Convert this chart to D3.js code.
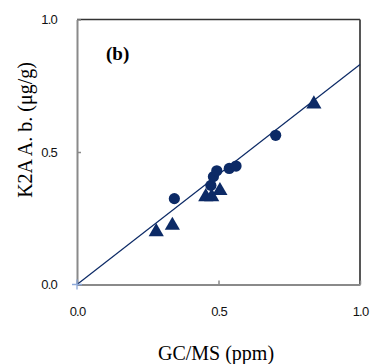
<!DOCTYPE html>
<html>
<head>
<meta charset="utf-8">
<script src="https://cdn.jsdelivr.net/npm/d3@7"></script>
<style>
  body { margin: 0; background: #fff; }
</style>
</head>
<body>
<div id="chart"></div>
<script>
// GC/MS vs K2A A. b. (panel b)
const circleX = [0.344, 0.473, 0.482, 0.494, 0.538, 0.562, 0.702];
const circleY = [0.324, 0.374, 0.407, 0.429, 0.438, 0.447, 0.563];
const triX = [0.280, 0.337, 0.455, 0.476, 0.505, 0.837];
const triY = [0.199, 0.223, 0.331, 0.331, 0.354, 0.681];
const fitSlope = 0.83;
const tickValues = [0, 0.5, 1.0];
const tickLabels = ["0.0", "0.5", "1.0"];

const width = 370, height = 364;
const margin = { top: 19.5, right: 10, bottom: 79.5, left: 77 };
const plotW = width - margin.left - margin.right;
const plotH = height - margin.top - margin.bottom;

const svg = d3.select("#chart")
  .append("svg")
  .attr("width", width)
  .attr("height", height);

const g = svg.append("g")
  .attr("transform", `translate(${margin.left},${margin.top})`);

const x = d3.scaleLinear().domain([0, 1]).range([0, plotW]);
const y = d3.scaleLinear().domain([0, 1]).range([plotH, 0]);

const navy = "#0c2a66";

// frame: top/right dark, left/bottom gray
g.append("line")
  .attr("x1", 0).attr("x2", plotW).attr("y1", 0).attr("y2", 0)
  .attr("stroke", "#333").attr("stroke-width", 1.5);
g.append("line")
  .attr("x1", plotW).attr("x2", plotW).attr("y1", 0).attr("y2", plotH)
  .attr("stroke", "#444").attr("stroke-width", 1.8);

const xAxis = g.append("g")
  .attr("transform", `translate(0,${plotH})`)
  .call(d3.axisBottom(x).tickValues(tickValues).tickSizeInner(-4).tickSizeOuter(0)
    .tickFormat((d, i) => tickLabels[i]));
const yAxis = g.append("g")
  .call(d3.axisLeft(y).tickValues(tickValues).tickSizeInner(-4).tickSizeOuter(0)
    .tickFormat((d, i) => tickLabels[i]));

[xAxis, yAxis].forEach(ax => {
  ax.select(".domain").attr("stroke", "#8a8a8a").attr("stroke-width", 2);
  ax.selectAll(".tick line").attr("stroke", "#8a8a8a").attr("stroke-width", 1.5);
  ax.selectAll(".tick text")
    .attr("font-family", "'Liberation Sans', Arial, sans-serif")
    .attr("font-size", "13px")
    .attr("letter-spacing", "-0.8px")
    .attr("fill", "#111");
});
xAxis.selectAll(".tick text").attr("y", 22);
yAxis.selectAll(".tick text").attr("x", -20);

// fit line
g.append("line")
  .attr("x1", x(0)).attr("y1", y(0))
  .attr("x2", x(1)).attr("y2", y(fitSlope))
  .attr("stroke", navy).attr("stroke-width", 1.2);

// origin cross
g.append("path")
  .attr("d", `M${x(0) - 5},${y(0)}H${x(0) + 5}M${x(0)},${y(0) - 5}V${y(0) + 5}`)
  .attr("stroke", "#8eaadb").attr("stroke-width", 1.3);

// circles
g.selectAll("circle.pt")
  .data(circleX.map((v, i) => [v, circleY[i]]))
  .join("circle")
  .attr("class", "pt")
  .attr("cx", d => x(d[0]))
  .attr("cy", d => y(d[1]))
  .attr("r", 5.6)
  .attr("fill", navy);

// triangles
g.selectAll("path.tri")
  .data(triX.map((v, i) => [v, triY[i]]))
  .join("path")
  .attr("class", "tri")
  .attr("transform", d => `translate(${x(d[0])},${y(d[1])})`)
  .attr("d", d3.symbol(d3.symbolTriangle, 100))
  .attr("fill", navy);

// panel label
g.append("text")
  .attr("x", 29).attr("y", 40)
  .attr("font-family", "'Liberation Serif', 'Times New Roman', serif")
  .attr("font-weight", "bold")
  .attr("font-size", "19px")
  .text("(b)");

// axis titles
svg.append("text")
  .attr("x", 216).attr("y", 360)
  .attr("text-anchor", "middle")
  .attr("font-family", "'Liberation Serif', 'Times New Roman', serif")
  .attr("font-size", "20px")
  .text("GC/MS (ppm)");

svg.append("text")
  .attr("transform", "translate(32,130) rotate(-90)")
  .attr("text-anchor", "middle")
  .attr("font-family", "'Liberation Serif', 'Times New Roman', serif")
  .attr("font-size", "20px")
  .text("K2A A. b. (μg/g)");
</script>
</body>
</html>
